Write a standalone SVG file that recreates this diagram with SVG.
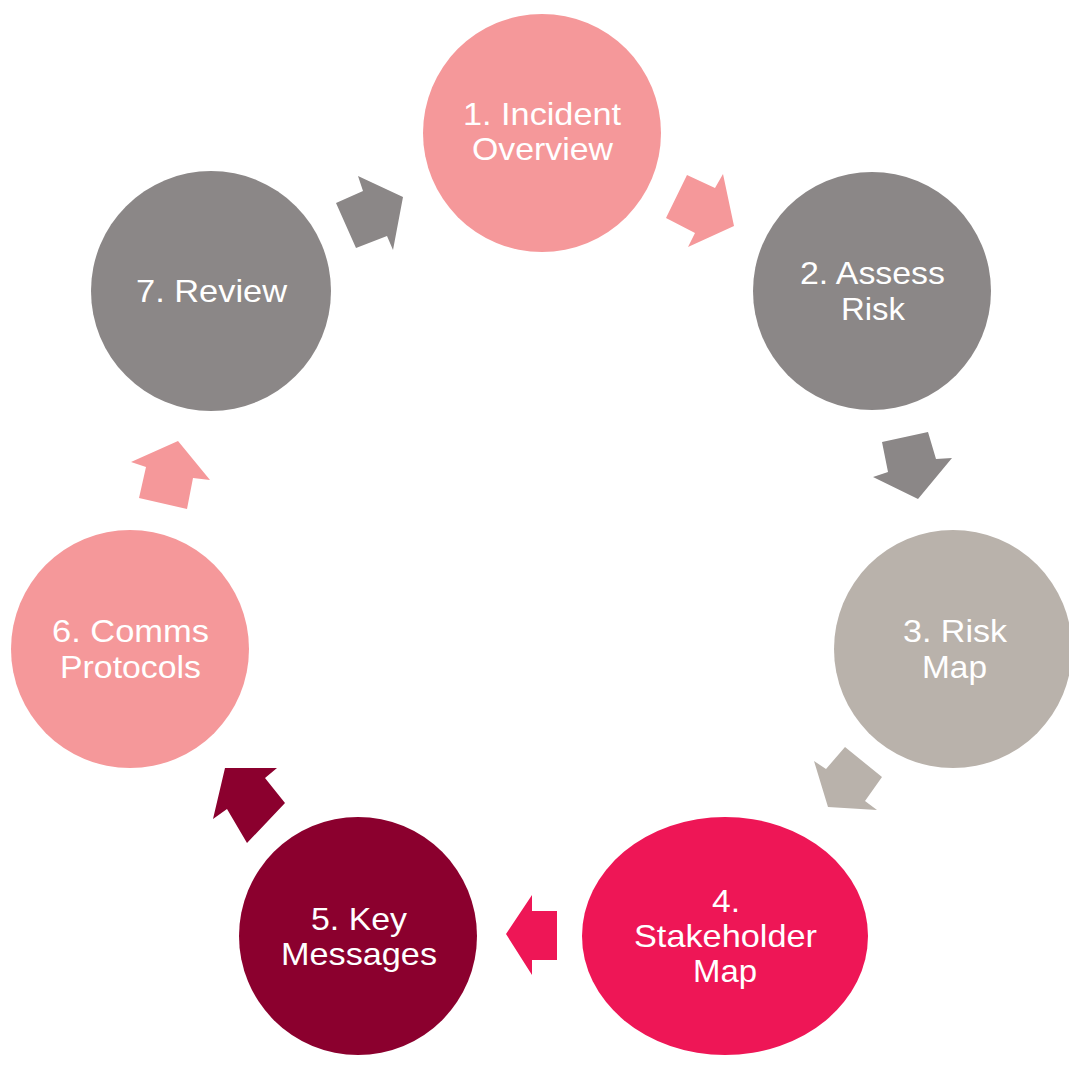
<svg xmlns="http://www.w3.org/2000/svg" width="1069" height="1066" viewBox="0 0 1069 1066">
<style>
.lbl{font-family:"Liberation Sans",Arial,sans-serif;font-size:32px;fill:#ffffff;text-anchor:middle}
.pink{fill:#F5989A}
.gray{fill:#8B8787}
.tan{fill:#B9B2AB}
.red{fill:#EE1656}
.maroon{fill:#8B002E}
</style>
<rect width="1069" height="1066" fill="#ffffff"/>
<g id="connectors">
<polygon class="pink" points="666,218 687,175 715,188 723,174 734,226 688,247 695,233"/>
<polygon class="gray" points="882,442 928,432 936,459 952,458 918,499 873,477 888,472"/>
<polygon class="tan" points="845,747 882,777 865,801 877,810 828,807 814,761 826,769"/>
<polygon class="red" points="506,934 532,895 532,911 557,911 557,960 532,960 532,975"/>
<polygon class="maroon" points="225,768 277,768 265,778 285,803 247,843 227,809 213,819"/>
<polygon class="pink" points="131,462 178,441 210,480 193,478 187,509 139,498 146,467"/>
<polygon class="gray" points="358,176 403,197 393,250 387,236 356,248 336,203 363,191"/>
</g>
<g id="node1">
<circle class="pink" cx="542" cy="133" r="119"/>
<text class="lbl" x="542" y="125" textLength="158" lengthAdjust="spacingAndGlyphs">1. Incident</text>
<text class="lbl" x="542.5" y="160" textLength="141" lengthAdjust="spacingAndGlyphs">Overview</text>
</g>
<g id="node2">
<circle class="gray" cx="872" cy="291" r="119"/>
<text class="lbl" x="872.5" y="284" textLength="145" lengthAdjust="spacingAndGlyphs">2. Assess</text>
<text class="lbl" x="873" y="320" textLength="64" lengthAdjust="spacingAndGlyphs">Risk</text>
</g>
<g id="node3">
<circle class="tan" cx="953" cy="649" r="119"/>
<text class="lbl" x="955" y="642" textLength="104" lengthAdjust="spacingAndGlyphs">3. Risk</text>
<text class="lbl" x="954.5" y="678" textLength="65" lengthAdjust="spacingAndGlyphs">Map</text>
</g>
<g id="node4">
<ellipse class="red" cx="725" cy="936" rx="143" ry="119"/>
<text class="lbl" x="726" y="912" textLength="28" lengthAdjust="spacingAndGlyphs">4.</text>
<text class="lbl" x="725.5" y="947" textLength="183" lengthAdjust="spacingAndGlyphs">Stakeholder</text>
<text class="lbl" x="725" y="982" textLength="64" lengthAdjust="spacingAndGlyphs">Map</text>
</g>
<g id="node5">
<circle class="maroon" cx="358" cy="936" r="119"/>
<text class="lbl" x="359" y="930" textLength="96" lengthAdjust="spacingAndGlyphs">5. Key</text>
<text class="lbl" x="359" y="965" textLength="156" lengthAdjust="spacingAndGlyphs">Messages</text>
</g>
<g id="node6">
<circle class="pink" cx="130" cy="649" r="119"/>
<text class="lbl" x="130.5" y="642" textLength="157" lengthAdjust="spacingAndGlyphs">6. Comms</text>
<text class="lbl" x="130.5" y="678" textLength="141" lengthAdjust="spacingAndGlyphs">Protocols</text>
</g>
<g id="node7">
<circle class="gray" cx="211" cy="291" r="120"/>
<text class="lbl" x="211.5" y="302" textLength="151" lengthAdjust="spacingAndGlyphs">7. Review</text>
</g>
</svg>
